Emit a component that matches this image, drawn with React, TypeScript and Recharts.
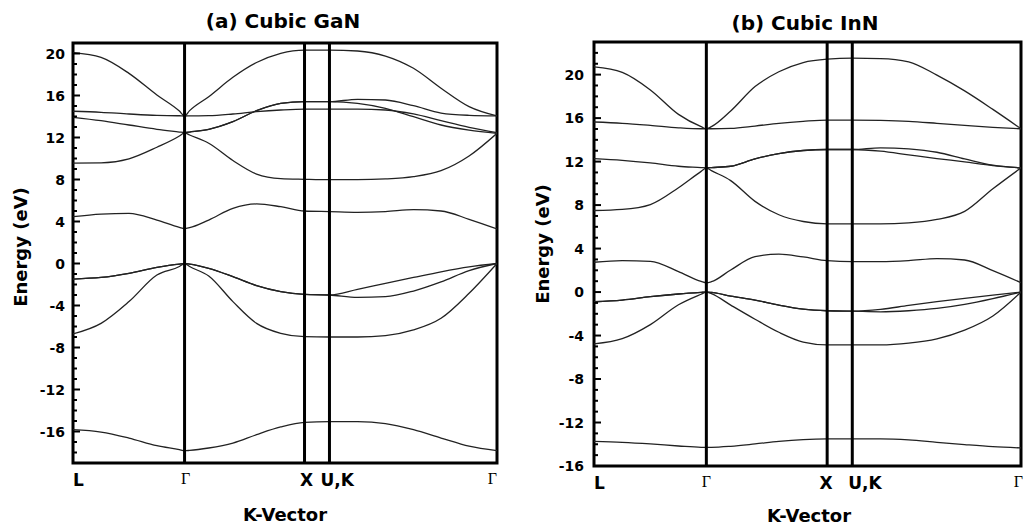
import React from 'react';
import { LineChart, Line, XAxis, YAxis, ReferenceLine, ReferenceArea } from 'recharts';

// k-path sample positions (L -> Γ -> X -> U,K -> Γ)
const kPath = [0, 0.217, 0.433, 0.649, 0.823, 0.863, 0.902, 1.05, 1.237, 1.42, 1.607, 1.791, 1.984, 2.201, 2.417, 2.634, 2.847, 3.064, 3.28];
const symK = [0, 0.863, 1.791, 1.984, 3.28];
const symLabels = ['L', 'Γ', 'X', 'U,K', 'Γ'];

// (a) cubic GaN bands, eV
const ganA = [20.08, 19.63, 18.11, 16.05, 14.52, 14.05, 14.56, 15.89, 17.73, 19.14, 20.02, 20.33, 20.33, 20.24, 19.76, 18.59, 16.69, 14.94, 14.05];
const ganB = [14.5, 14.4, 14.24, 14.11, 14.07, 14.05, 14.06, 14.08, 14.24, 14.46, 14.62, 14.71, 14.71, 14.71, 14.62, 14.24, 13.6, 12.97, 12.46];
const ganD = [null, null, null, null, null, 12.46, 12.52, 12.78, 13.51, 14.56, 15.25, 15.41, 15.41, 15.64, 15.57, 15.03, 14.33, 14.11, 14.05];
const ganC2 = [9.56, 9.58, 9.97, 11.07, 12.14, 12.46, 12.52, 12.78, 13.51, 14.56, 15.25, 15.41, 15.41, 15.25, 14.78, 13.98, 13.19, 12.71, 12.4];
const ganC3 = [13.92, 13.6, 13.19, 12.78, 12.52, 12.46, 12.24, 11.45, 9.81, 8.52, 8.08, 8.02, 7.98, 7.98, 8.05, 8.27, 8.84, 10.24, 12.4];
const ganC1 = [4.46, 4.71, 4.78, 4.14, 3.44, 3.32, 3.41, 4.14, 5.25, 5.67, 5.41, 5.0, 4.94, 4.87, 4.94, 5.13, 5.0, 4.21, 3.29];
const ganV1 = [-1.48, -1.33, -0.94, -0.37, -0.05, 0, -0.05, -0.46, -1.25, -2.11, -2.68, -2.94, -3.0, -2.46, -1.89, -1.33, -0.79, -0.32, 0];
const ganV2 = [-1.48, -1.33, -0.94, -0.37, -0.05, 0, -0.05, -0.46, -1.25, -2.11, -2.68, -2.94, -3.0, -3.22, -3.16, -2.62, -1.75, -0.68, 0];
const ganV3 = [-6.71, -5.7, -3.63, -1.1, -0.29, 0, -0.29, -1.19, -3.63, -5.7, -6.65, -6.97, -7.0, -7.0, -6.87, -6.33, -5.22, -2.84, 0];
const ganS = [-15.83, -16.05, -16.62, -17.35, -17.73, -17.83, -17.8, -17.57, -17.1, -16.3, -15.57, -15.13, -15.06, -15.06, -15.25, -15.83, -16.62, -17.4, -17.83];

// (b) cubic InN bands, eV
const innA = [20.71, 20.2, 18.59, 16.34, 15.21, 15.02, 15.21, 16.65, 18.9, 20.26, 21.11, 21.42, 21.51, 21.48, 21.18, 19.95, 18.5, 16.8, 15.02];
const innB = [15.64, 15.52, 15.33, 15.11, 15.02, 15.02, 15.02, 15.05, 15.27, 15.52, 15.7, 15.82, 15.82, 15.79, 15.7, 15.52, 15.33, 15.15, 15.02];
const innD = [null, null, null, null, null, 11.42, 11.45, 11.57, 12.25, 12.74, 13.02, 13.11, 13.11, 13.27, 13.17, 12.86, 12.25, 11.67, 11.42];
const innC2 = [7.5, 7.6, 8.05, 9.6, 11.1, 11.42, 11.45, 11.57, 12.25, 12.74, 13.02, 13.11, 13.11, 12.96, 12.62, 12.28, 11.97, 11.63, 11.42];
const innC3 = [12.28, 12.12, 11.88, 11.57, 11.45, 11.42, 11.17, 10.25, 8.34, 7.11, 6.49, 6.28, 6.28, 6.28, 6.37, 6.68, 7.42, 9.5, 11.42];
const innC1 = [2.74, 2.89, 2.83, 1.88, 0.98, 0.86, 0.95, 2.03, 3.26, 3.48, 3.23, 2.89, 2.8, 2.8, 2.89, 3.08, 2.95, 1.97, 0.86];
const innV1 = [-0.89, -0.74, -0.43, -0.18, -0.03, 0, -0.03, -0.37, -0.74, -1.2, -1.57, -1.72, -1.76, -1.6, -1.23, -0.89, -0.58, -0.28, 0];
const innV2 = [-0.89, -0.74, -0.43, -0.18, -0.03, 0, -0.03, -0.37, -0.74, -1.2, -1.57, -1.72, -1.76, -1.82, -1.72, -1.51, -1.14, -0.61, 0];
const innV3 = [-4.77, -4.29, -3.0, -1.17, -0.2, 0, -0.15, -1.2, -2.5, -3.7, -4.6, -4.86, -4.86, -4.86, -4.7, -4.3, -3.5, -2.2, 0];
const innS = [-13.73, -13.82, -13.97, -14.16, -14.28, -14.28, -14.28, -14.19, -13.97, -13.73, -13.57, -13.51, -13.51, -13.51, -13.6, -13.82, -14.03, -14.22, -14.34];

const ganBands = [ganA, ganB, ganD, ganC2, ganC3, ganC1, ganV1, ganV2, ganV3, ganS];
const innBands = [innA, innB, innD, innC2, innC3, innC1, innV1, innV2, innV3, innS];

const range = (a: number, b: number) => Array.from({ length: b - a + 1 }, (_, i) => a + i);

const buildRows = (bands: (number | null)[][]) =>
  kPath.map((k, i) => {
    const row: any = { k };
    bands.forEach((b, j) => {
      row['b' + j] = b[i];
    });
    return row;
  });

const SANS = '"DejaVu Sans", sans-serif';
const SERIF = '"Liberation Serif", serif';

type Place = { anchor: 'start' | 'middle' | 'end'; dx: number };

const EnergyTick = (props: any) => {
  const { x, y, payload, side, gap } = props;
  const v = payload.value;
  const major = v % 4 === 0;
  const len = major ? 7 : 4;
  const dir = side === 'left' ? 1 : -1;
  return (
    <g>
      <line x1={x} y1={y} x2={x + dir * len} y2={y} stroke="#000" strokeWidth={2} />
      {side === 'left' && major && (
        <text x={x - gap} y={y} dy="0.36em" textAnchor="end" fontFamily={SANS} fontWeight={700} fontSize={14} fill="#000">
          {v}
        </text>
      )}
    </g>
  );
};

const KTick = (props: any) => {
  const { x, y, payload, place } = props;
  const i = symK.indexOf(payload.value);
  if (i < 0) return <g />;
  const label = symLabels[i];
  const p: Place = place[i];
  const greek = label === 'Γ';
  return (
    <text
      x={x + p.dx}
      y={y + (greek ? 21 : 23)}
      textAnchor={p.anchor}
      fontFamily={greek ? SERIF : SANS}
      fontWeight={greek ? 400 : 700}
      fontSize={greek ? 16 : 17}
      fill="#000"
    >
      {label}
    </text>
  );
};

interface PanelProps {
  left: number;
  width: number;
  margin: { top: number; right: number; bottom: number; left: number };
  yAxisWidth: number;
  xAxisHeight: number;
  yDomain: [number, number];
  bands: (number | null)[][];
  tickGap: number;
  place: Place[];
}

const Panel: React.FC<PanelProps> = ({ left, width, margin, yAxisWidth, xAxisHeight, yDomain, bands, tickGap, place }) => {
  const data = buildRows(bands);
  const yTicks = range(yDomain[0], yDomain[1]);
  return (
    <div style={{ position: 'absolute', left, top: 0 }}>
      <LineChart width={width} height={526} data={data} margin={margin}>
        <XAxis
          dataKey="k"
          type="number"
          domain={[0, 3.28]}
          ticks={symK}
          interval={0}
          allowDataOverflow
          axisLine={false}
          tickLine={false}
          tickSize={0}
          tickMargin={0}
          height={xAxisHeight}
          tick={(p: any) => <KTick {...p} place={place} />}
        />
        <YAxis
          type="number"
          domain={yDomain}
          ticks={yTicks}
          interval={0}
          allowDataOverflow
          axisLine={false}
          tickLine={false}
          tickSize={0}
          tickMargin={0}
          width={yAxisWidth}
          tick={(p: any) => <EnergyTick {...p} side="left" gap={tickGap} />}
        />
        <YAxis
          yAxisId="r"
          orientation="right"
          type="number"
          domain={yDomain}
          ticks={yTicks}
          interval={0}
          allowDataOverflow
          axisLine={false}
          tickLine={false}
          tickSize={0}
          tickMargin={0}
          width={0}
          tick={(p: any) => <EnergyTick {...p} side="right" gap={0} />}
        />
        {bands.map((_, j) => (
          <Line
            key={j}
            dataKey={'b' + j}
            type="monotone"
            stroke="#222"
            strokeWidth={1.3}
            dot={false}
            activeDot={false}
            connectNulls={false}
            isAnimationActive={false}
          />
        ))}
        {symK.slice(1, 4).map((k) => (
          <ReferenceLine key={k} x={k} stroke="#000" strokeWidth={3} ifOverflow="visible" />
        ))}
        <ReferenceArea
          x1={0}
          x2={3.28}
          y1={yDomain[0]}
          y2={yDomain[1]}
          fill="none"
          fillOpacity={0}
          stroke="#000"
          strokeWidth={3}
          strokeOpacity={1}
          ifOverflow="visible"
        />
      </LineChart>
    </div>
  );
};

const ganPlace: Place[] = [
  { anchor: 'start', dx: 0 },
  { anchor: 'middle', dx: 1 },
  { anchor: 'middle', dx: 2 },
  { anchor: 'start', dx: -9 },
  { anchor: 'end', dx: 0 },
];
const innPlace: Place[] = [
  { anchor: 'start', dx: 0 },
  { anchor: 'middle', dx: 0 },
  { anchor: 'middle', dx: -1 },
  { anchor: 'start', dx: -4 },
  { anchor: 'end', dx: 2 },
];

export default function App() {
  return (
    <div style={{ position: 'absolute', left: 0, top: 0, width: 1025, height: 526, overflow: 'hidden', background: '#fff' }}>
      <Panel
        left={0}
        width={512}
        margin={{ top: 43, right: 15, bottom: 0, left: 0 }}
        yAxisWidth={73}
        xAxisHeight={63}
        yDomain={[-19, 21]}
        bands={ganBands}
        tickGap={8}
        place={ganPlace}
      />
      <Panel
        left={512}
        width={513}
        margin={{ top: 42, right: 4, bottom: 0, left: 0 }}
        yAxisWidth={82}
        xAxisHeight={60}
        yDomain={[-16, 23]}
        bands={innBands}
        tickGap={10}
        place={innPlace}
      />
      <svg width={1025} height={526} style={{ position: 'absolute', left: 0, top: 0, pointerEvents: 'none' }}>
        <g fontFamily={SANS} fontWeight={700} fill="#000">
          <text x={283} y={28} textAnchor="middle" fontSize={20}>(a) Cubic GaN</text>
          <text x={805} y={30} textAnchor="middle" fontSize={20}>(b) Cubic InN</text>
          <text transform="translate(27,247) rotate(-90)" textAnchor="middle" fontSize={18}>Energy (eV)</text>
          <text transform="translate(549,244) rotate(-90)" textAnchor="middle" fontSize={18}>Energy (eV)</text>
          <text x={285} y={521} textAnchor="middle" fontSize={18}>K-Vector</text>
          <text x={809} y={522} textAnchor="middle" fontSize={18}>K-Vector</text>
        </g>
      </svg>
    </div>
  );
}
